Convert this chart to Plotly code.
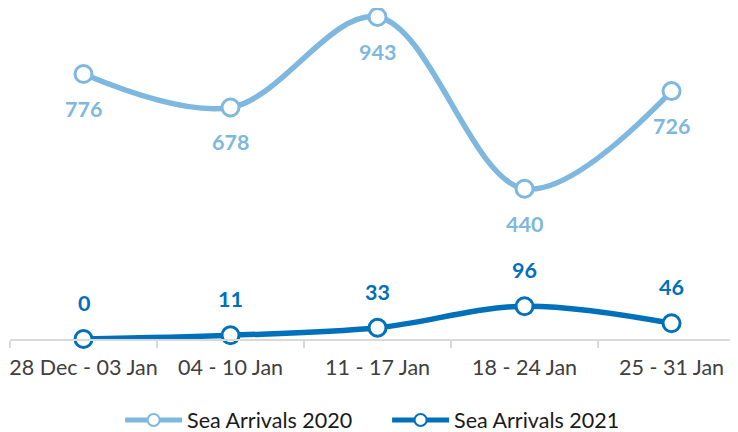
import plotly.graph_objects as go

categories = ["28 Dec - 03 Jan", "04 - 10 Jan", "11 - 17 Jan", "18 - 24 Jan", "25 - 31 Jan"]
arrivals_2020 = [776, 678, 943, 440, 726]
arrivals_2021 = [0, 11, 33, 96, 46]

c2020 = "#7fb8df"
c2021 = "#0070ba"
font_family = "Lato, 'Open Sans', sans-serif"

fig = go.Figure()
fig.add_trace(go.Scatter(
    x=categories, y=arrivals_2020, name="Sea Arrivals 2020",
    mode="lines+markers", line=dict(color=c2020, width=5.5, shape="spline", smoothing=1.0),
    marker=dict(size=17, color="white", line=dict(color=c2020, width=3)),
    cliponaxis=False,
))
fig.add_trace(go.Scatter(
    x=categories, y=arrivals_2021, name="Sea Arrivals 2021",
    mode="lines+markers", line=dict(color=c2021, width=5.5, shape="spline", smoothing=1.0),
    marker=dict(size=17, color="white", line=dict(color=c2021, width=3)),
    cliponaxis=False,
))

annotations = []
for cat, v in zip(categories, arrivals_2020):
    annotations.append(dict(x=cat, y=v, text=f"<b>{v}</b>", showarrow=False, yshift=-35,
                            font=dict(size=21.5, color=c2020, family=font_family)))
for cat, v in zip(categories, arrivals_2021):
    annotations.append(dict(x=cat, y=v, text=f"<b>{v}</b>", showarrow=False, yshift=36,
                            font=dict(size=21.5, color=c2021, family=font_family)))

fig.update_layout(
    template="none",
    width=730, height=424,
    margin=dict(l=2, r=0, t=0, b=93, autoexpand=False),
    paper_bgcolor="white", plot_bgcolor="white",
    font=dict(family=font_family, size=21.5, color="#404040"),
    annotations=annotations,
    showlegend=True,
    legend=dict(orientation="h", x=0.518, xanchor="center", y=-0.2447, yanchor="middle",
                font=dict(size=21.5, color="#1a1a1a"), itemwidth=57, itemsizing="constant",
                entrywidth=195, bgcolor="rgba(0,0,0,0)"),
    xaxis=dict(type="category", range=[-0.5, 4.452], showgrid=False, automargin=False,
               showline=True, linecolor="#d9d9d9", linewidth=2, zeroline=False,
               ticks="outside", tickson="boundaries", ticklen=7, tickcolor="#d9d9d9", tickwidth=2,
               tickangle=0, ticklabelstandoff=8, tickfont=dict(size=21.5, color="#404040")),
    yaxis=dict(range=[0, 969.3], visible=False, showgrid=False, zeroline=False, automargin=False),
)

fig.write_html("out.html")
